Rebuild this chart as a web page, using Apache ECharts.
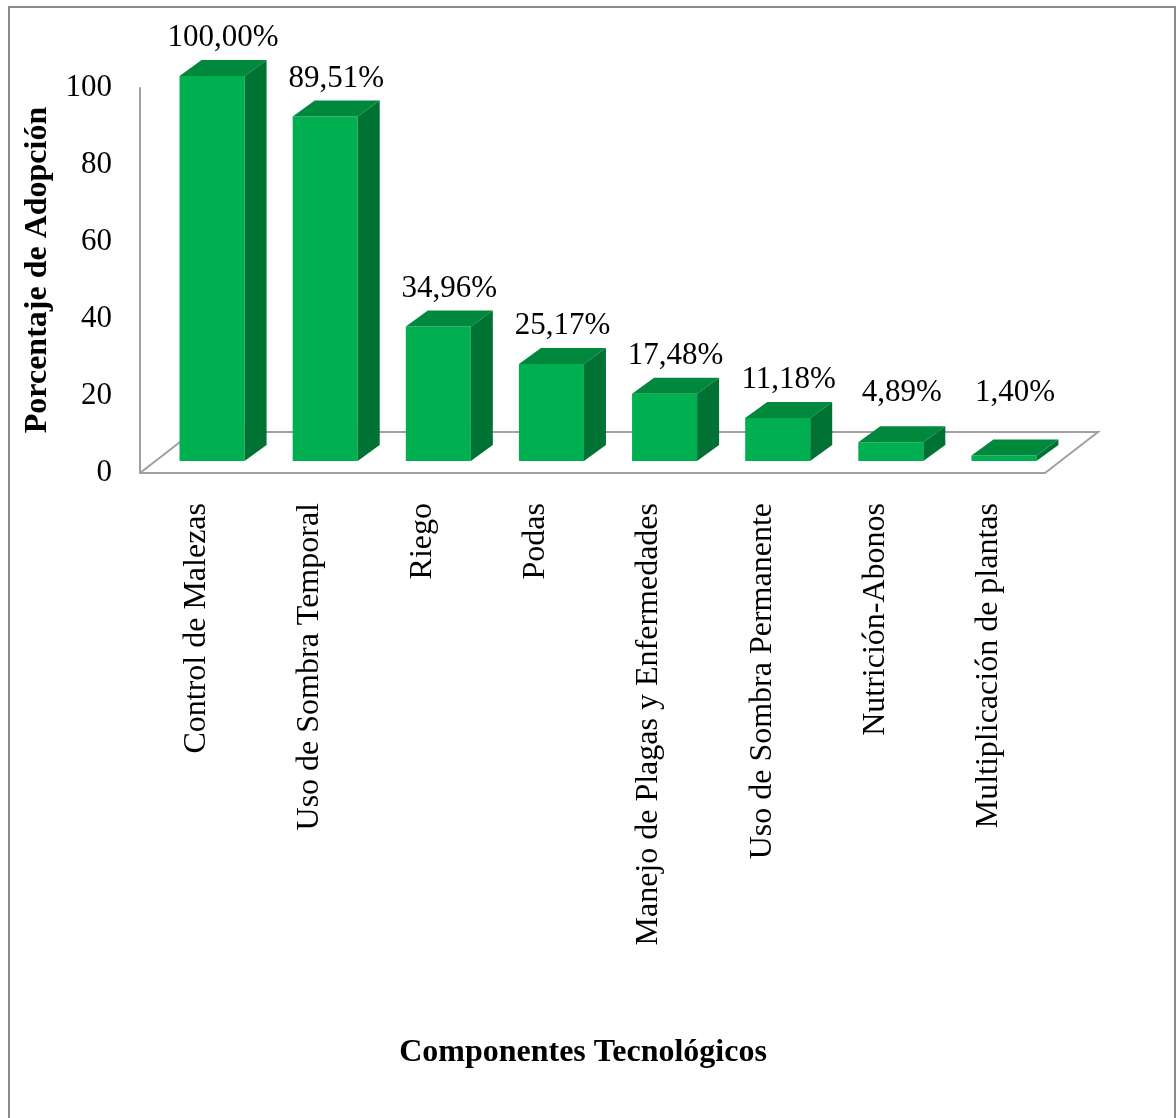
<!DOCTYPE html>
<html>
<head>
<meta charset="utf-8">
<script src="https://cdn.jsdelivr.net/npm/echarts@6/dist/echarts.min.js"></script>
<style>
html,body{margin:0;padding:0;background:#fff;}
#chart{width:1176px;height:1118px;}
</style>
</head>
<body>
<div id="chart"></div>
<script>
var categories = ["Control de Malezas", "Uso de Sombra Temporal", "Riego", "Podas",
  "Manejo de Plagas y Enfermedades", "Uso de Sombra Permanente", "Nutrición-Abonos", "Multiplicación de plantas"];
var values = [100.00, 89.51, 34.96, 25.17, 17.48, 11.18, 4.89, 1.40];
var yTicks = [0, 20, 40, 60, 80, 100];
var yTitle = "Porcentaje de Adopción";
var xTitle = "Componentes Tecnológicos";

var FONT = "'Liberation Serif', 'Times New Roman', serif";
var FLOOR_DX = 53, FLOOR_DY = 41;
var BAR_FX = 15.5, BAR_FY = 12;
var BAR_DX = 22, BAR_DY = 16;
var GRAY = '#A0A0A0';

function fmt(v) { return v.toFixed(2).replace('.', ',') + '%'; }

var chart = echarts.init(document.getElementById('chart'), null, {renderer: 'canvas'});

var option = {
  backgroundColor: '#ffffff',
  animation: false,
  grid: {left: 140, top: 88, width: 905, height: 385, containLabel: false},
  xAxis: {
    type: 'category',
    data: categories,
    boundaryGap: true,
    axisLine: {show: true, lineStyle: {color: GRAY, width: 2}},
    axisTick: {show: false},
    axisLabel: {interval: 0, rotate: 90, margin: 30, fontSize: 32, fontFamily: FONT, color: '#000'},
    splitLine: {show: false}
  },
  yAxis: {
    type: 'value',
    min: yTicks[0],
    max: yTicks[yTicks.length - 1],
    interval: yTicks[1] - yTicks[0],
    axisLine: {show: true, lineStyle: {color: GRAY, width: 2}},
    axisTick: {show: false},
    splitLine: {show: false},
    axisLabel: {fontSize: 31, fontFamily: FONT, color: '#000', margin: 28}
  },
  graphic: [
    {type: 'rect', shape: {x: 9, y: 7, width: 1166, height: 1140}, style: {fill: 'none', stroke: '#8C8C8C', lineWidth: 2}, z: 0, silent: true},
    {type: 'text', x: 38, y: 270, rotation: Math.PI / 2,
      style: {text: yTitle, font: 'bold 32px ' + FONT, fill: '#000', textAlign: 'center', textVerticalAlign: 'middle', align: 'center', verticalAlign: 'middle'}},
    {type: 'text', x: 583, y: 1053,
      style: {text: xTitle, font: 'bold 32px ' + FONT, fill: '#000', textAlign: 'center', textVerticalAlign: 'middle', align: 'center', verticalAlign: 'middle'}}
  ],
  series: [
    {
      type: 'custom',
      z: 1,
      silent: true,
      data: [[0, 0]],
      renderItem: function (params, api) {
        var bw = api.size([1, 0])[0];
        var p0 = api.coord([0, 0]);
        var p1 = api.coord([categories.length - 1, 0]);
        var x0 = p0[0] - bw / 2, x1 = p1[0] + bw / 2, y0 = p0[1];
        return {
          type: 'polyline',
          shape: {points: [[x0, y0], [x0 + FLOOR_DX, y0 - FLOOR_DY], [x1 + FLOOR_DX, y0 - FLOOR_DY], [x1, y0]]},
          style: {stroke: GRAY, lineWidth: 2, fill: null}
        };
      }
    },
    {
      type: 'custom',
      z: 2,
      data: values.map(function (v, i) { return [i, v]; }),
      renderItem: function (params, api) {
        var i = api.value(0), v = api.value(1);
        var bw = api.size([1, 0])[0];
        var c = api.coord([i, 0]);
        var t = api.coord([i, v]);
        var w = bw * 0.575;
        var xL = c[0] - w / 2 + BAR_FX, xR = xL + w;
        var yB = c[1] - BAR_FY, yT = t[1] - BAR_FY;
        var ly = Math.min(yT - BAR_DY - 22, c[1] - 80);
        return {
          type: 'group',
          children: [
            {type: 'rect', shape: {x: xL, y: yT, width: w, height: yB - yT}, style: {fill: '#00B050'}},
            {type: 'polygon', shape: {points: [[xL, yT], [xR, yT], [xR + BAR_DX, yT - BAR_DY], [xL + BAR_DX, yT - BAR_DY]]}, style: {fill: '#00893D'}},
            {type: 'polygon', shape: {points: [[xR, yT], [xR + BAR_DX, yT - BAR_DY], [xR + BAR_DX, yB - BAR_DY], [xR, yB]]}, style: {fill: '#007233'}},
            {type: 'text', x: xL + w / 2 + 11, y: ly,
              style: {text: fmt(v), font: '31px ' + FONT, fill: '#000', textAlign: 'center', textVerticalAlign: 'middle', align: 'center', verticalAlign: 'middle'}}
          ]
        };
      }
    }
  ]
};
chart.setOption(option);
</script>
</body>
</html>
